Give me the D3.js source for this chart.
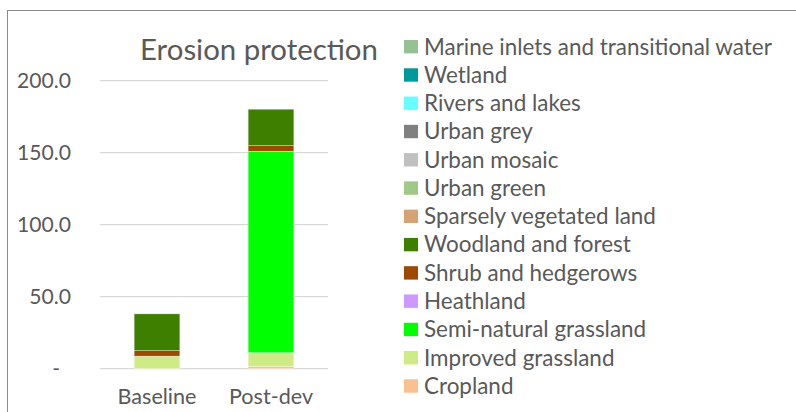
<!DOCTYPE html>
<html><head><meta charset="utf-8">
<script src="https://cdn.jsdelivr.net/npm/d3@7"></script>
<style>body{margin:0;background:#fff}svg{display:block}text{font-family:Lato,"Open Sans",sans-serif;fill:#595959}</style>
</head><body>
<svg id="c" width="796" height="412"></svg>
<script>
const categories = ["Baseline", "Post-dev"];
const seriesNames = ["Cropland","Improved grassland","Semi-natural grassland","Heathland","Shrub and hedgerows","Woodland and forest","Sparsely vegetated land","Urban green","Urban mosaic","Urban grey","Rivers and lakes","Wetland","Marine inlets and transitional water"];
const cropland = [0, 1.4];
const improvedGrassland = [8.7, 9.7];
const semiNaturalGrassland = [0, 139.9];
const heathland = [0, 0];
const shrubHedgerows = [3.8, 3.9];
const woodlandForest = [25.6, 25.3];
const sparselyVegetated = [0, 0];
const urbanGreen = [0, 0];
const urbanMosaic = [0, 0];
const urbanGrey = [0, 0];
const riversLakes = [0, 0];
const wetland = [0, 0];
const marineInlets = [0, 0];
const seriesValues = [cropland, improvedGrassland, semiNaturalGrassland, heathland, shrubHedgerows, woodlandForest, sparselyVegetated, urbanGreen, urbanMosaic, urbanGrey, riversLakes, wetland, marineInlets];
const colors = ["#FBC08F","#CFEB86","#00FF00","#CC99FF","#9C4A00","#3F7F00","#D4A373","#A0C887","#C0C0C0","#808080","#66FFFF","#009999","#95C195"];
const yTicks = [0, 50, 100, 150, 200];
const title = "Erosion protection";

const svg = d3.select("#c");
// chart frame
svg.append("rect").attr("x",7.5).attr("y",10.5).attr("width",820).attr("height",420)
  .attr("fill","none").attr("stroke","#8c8c8c").attr("stroke-width",1);

const table = categories.map((c,i)=>{const o={cat:c}; seriesNames.forEach((s,j)=>o[s]=seriesValues[j][i]); return o;});
const stack = d3.stack().keys(seriesNames)(table);

const x = d3.scaleBand().domain(categories).range([100,328]).paddingInner(0.6).paddingOuter(0.3);
const y = d3.scaleLinear().domain([0,200]).range([368.7,80.7]);

// gridlines
svg.append("g").selectAll("line").data(yTicks).join("line")
  .attr("x1",100).attr("x2",328).attr("y1",d=>y(d)).attr("y2",d=>y(d))
  .attr("stroke","#d9d9d9").attr("stroke-width",1.3);

// y axis labels
const yAxis = d3.axisLeft(y).tickValues(yTicks).tickSize(0).tickPadding(0)
  .tickFormat(d=> d===0 ? "-" : d3.format(".1f")(d));
const ya = svg.append("g").attr("transform","translate(71,0)").call(yAxis);
ya.select(".domain").remove();
const yt = ya.selectAll("text").attr("font-size",19).attr("fill","#595959").style("font-family","Lato,'Open Sans',sans-serif")
  .attr("dx", d=> d===0 ? -11 : 0);
const w200 = yt.filter(d=>d===200).node().getComputedTextLength();
yt.attr("font-size", 19*54/w200);

// bars
const bw = 45.7;
svg.append("g").selectAll("g").data(stack).join("g").attr("fill",(d,i)=>colors[i])
  .selectAll("rect").data(d=>d).join("rect")
  .attr("x",d=>x(d.data.cat)+x.bandwidth()/2-bw/2).attr("width",bw)
  .attr("y",d=>y(d[1])).attr("height",d=>Math.max(0,y(d[0])-y(d[1])))
  .attr("stroke",d=> (d[1]-d[0])>0 ? "#ffffff" : "none").attr("stroke-width",0.6).attr("stroke-opacity",0.6);

// x axis labels
const xAxis = d3.axisBottom(x).tickSize(0).tickPadding(0);
const xa = svg.append("g").attr("transform","translate(0,404)").call(xAxis);
xa.select(".domain").remove();
const xt = xa.selectAll("text").attr("font-size",19).attr("fill","#595959").attr("dy",0).attr("y",0)
  .style("font-family","Lato,'Open Sans',sans-serif");
const wb = xt.filter(d=>d==="Baseline").node().getComputedTextLength();
xt.attr("font-size", 19*79/wb);

// title
const t = svg.append("text").attr("x",259).attr("y",60).attr("text-anchor","middle").attr("font-size",29).text(title);
const tw = t.node().getComputedTextLength();
t.attr("font-size", 29*238/tw);

// legend
const leg = svg.append("g");
const legOrder = seriesNames.map((s,i)=>i).reverse();
const ly = d3.scalePoint().domain(legOrder).range([46.7,386]);
const items = leg.selectAll("g").data(legOrder).join("g").attr("transform",i=>`translate(0,${ly(i)})`);
items.append("rect").attr("x",404).attr("y",-6.7).attr("width",14).attr("height",13.4).attr("fill",i=>colors[i]);
const lt = items.append("text").attr("x",424).attr("dy","0.35em").attr("font-size",20).text(i=>seriesNames[i]);
const longest = lt.filter(i=>i===12).node().getComputedTextLength();
lt.attr("font-size",20*348/longest);
</script>
</body></html>
